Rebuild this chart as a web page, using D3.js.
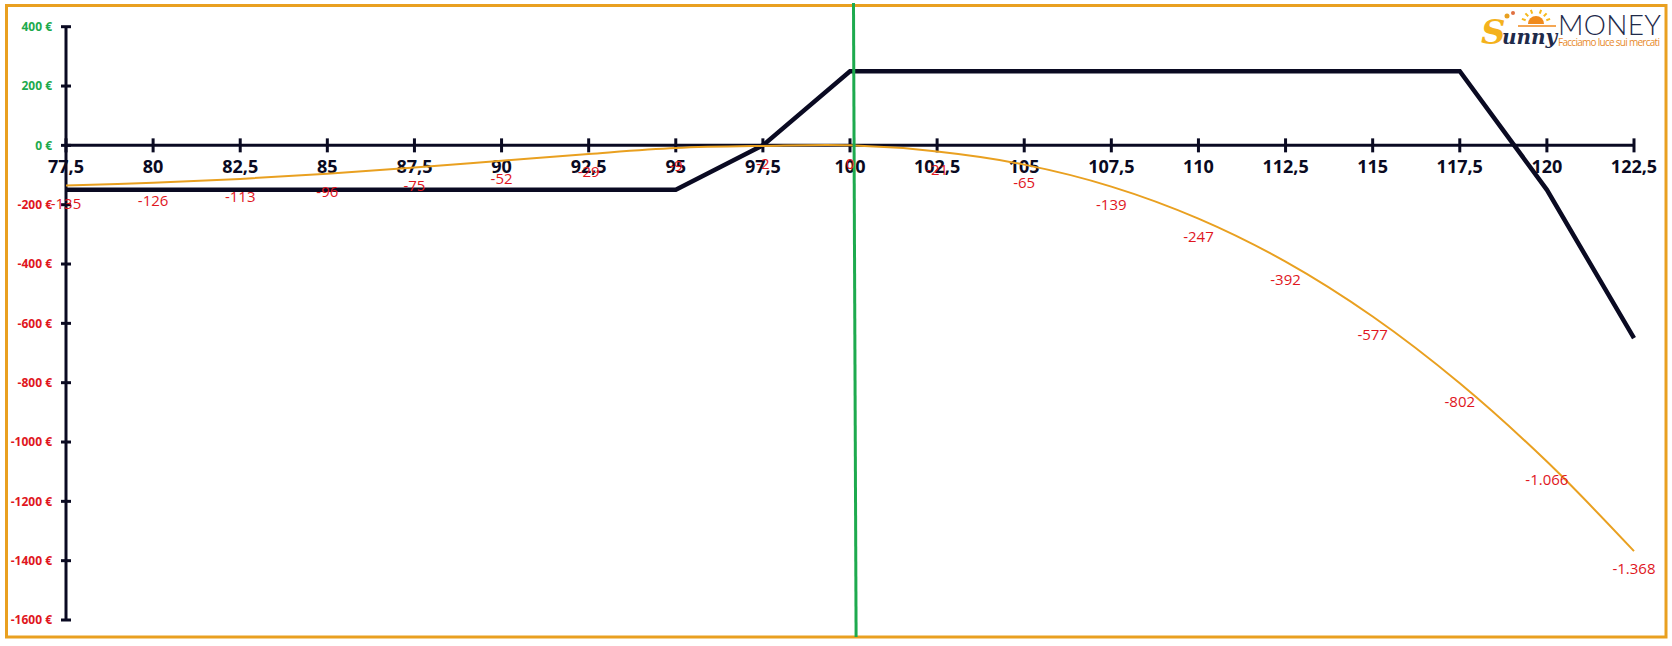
<!DOCTYPE html>
<html>
<head>
<meta charset="utf-8">
<script src="https://cdn.jsdelivr.net/npm/d3@7"></script>
<style>
  html, body { margin: 0; padding: 0; background: #fff; }
  svg { display: block; }
</style>
</head>
<body>
<svg id="chart" width="1672" height="646"></svg>
<script>
// ---------- DATA ----------
const strikes = [77.5, 80, 82.5, 85, 87.5, 90, 92.5, 95, 97.5, 100, 102.5, 105, 107.5, 110, 112.5, 115, 117.5, 120, 122.5];
const xTickLabels = ["77,5","80","82,5","85","87,5","90","92,5","95","97,5","100","102,5","105","107,5","110","112,5","115","117,5","120","122,5"];
const payoffExpiry = [-150, -150, -150, -150, -150, -150, -150, -150, 0, 250, 250, 250, 250, 250, 250, 250, 250, -150, -650];
const payoffToday = [-135, -126, -113, -96, -75, -52, -29, -9, -2, 0, -21, -65, -139, -247, -392, -577, -802, -1066, -1368];
const yTicks = [400, 200, 0, -200, -400, -600, -800, -1000, -1200, -1400, -1600];
const currentPrice = [100.1, 100.175];   // marker line, top / bottom
const currentPriceSpan = [480, -1657];

// ---------- SETUP ----------
const W = 1672, H = 646;
const svg = d3.select("#chart");
const loc = d3.formatLocale({decimal: ",", thousands: ".", grouping: [3], currency: ["", " €"], minus: "-"});
const fmtLabel = loc.format(",d");

const x = d3.scaleLinear().domain([77.5, 122.5]).range([66, 1634]);
const y = d3.scaleLinear().domain([400, -1600]).range([26.7, 620]);

const navy = "#0a0a22";
const orange = "#E9A020";
const green = "#1DAA4E";
const red = "#E0161E";

// border
svg.append("rect")
  .attr("x", 6.5).attr("y", 5.5).attr("width", 1659.5).attr("height", 631.5)
  .attr("fill", "#fff").attr("stroke", orange).attr("stroke-width", 3);

// ---------- AXES ----------
// y axis
const yAxis = svg.append("g").attr("class", "y-axis");
yAxis.append("line")
  .attr("x1", x(77.5)).attr("x2", x(77.5))
  .attr("y1", y(400)).attr("y2", y(-1600))
  .attr("stroke", navy).attr("stroke-width", 3);
yAxis.selectAll("line.tick").data(yTicks).join("line")
  .attr("class", "tick")
  .attr("x1", x(77.5) - 5).attr("x2", x(77.5) + 5)
  .attr("y1", d => y(d)).attr("y2", d => y(d))
  .attr("stroke", navy).attr("stroke-width", 3);
yAxis.selectAll("text").data(yTicks).join("text")
  .attr("x", 52).attr("y", d => y(d))
  .attr("dy", "0.35em")
  .attr("text-anchor", "end")
  .attr("font-family", "Open Sans")
  .attr("font-weight", "bold")
  .attr("font-size", 12)
  .attr("fill", d => d >= 0 ? green : red)
  .text(d => d + " €");

// x axis (at zero)
const xAxis = svg.append("g").attr("class", "x-axis");
xAxis.append("line")
  .attr("x1", x(77.5)).attr("x2", x(122.5))
  .attr("y1", y(0)).attr("y2", y(0))
  .attr("stroke", navy).attr("stroke-width", 3);
xAxis.selectAll("line.tick").data(strikes).join("line")
  .attr("class", "tick")
  .attr("x1", d => x(d)).attr("x2", d => x(d))
  .attr("y1", y(0) - 7).attr("y2", y(0) + 7)
  .attr("stroke", navy).attr("stroke-width", 3);
xAxis.selectAll("text").data(strikes).join("text")
  .attr("x", d => x(d)).attr("y", y(0) + 28)
  .attr("text-anchor", "middle")
  .attr("font-family", "Open Sans")
  .attr("font-weight", "bold")
  .attr("font-size", 18)
  .attr("fill", navy)
  .text((d, i) => xTickLabels[i]);

// ---------- LINES ----------
const expiryLine = d3.line().x((d, i) => x(strikes[i])).y(d => y(d));
svg.append("path")
  .datum(payoffExpiry)
  .attr("d", expiryLine)
  .attr("fill", "none")
  .attr("stroke", navy)
  .attr("stroke-width", 4.5)
  .attr("stroke-linejoin", "miter");

const todayLine = d3.line().x((d, i) => x(strikes[i])).y(d => y(d)).curve(d3.curveCatmullRom.alpha(0.5));
svg.append("path")
  .datum(payoffToday)
  .attr("d", todayLine)
  .attr("fill", "none")
  .attr("stroke", orange)
  .attr("stroke-width", 2);

// current price marker
svg.append("line")
  .attr("x1", x(currentPrice[0])).attr("x2", x(currentPrice[1]))
  .attr("y1", y(currentPriceSpan[0])).attr("y2", y(currentPriceSpan[1]))
  .attr("stroke", green).attr("stroke-width", 3);

// value labels
svg.append("g").selectAll("text").data(payoffToday).join("text")
  .attr("x", (d, i) => x(strikes[i]))
  .attr("y", d => y(d) + 18)
  .attr("dy", "0.35em")
  .attr("text-anchor", "middle")
  .attr("font-family", "Open Sans")
  .attr("font-size", 15)
  .attr("fill", red)
  .text(d => fmtLabel(d));

// ---------- LOGO ----------
const logo = svg.append("g").attr("class", "logo");
// sun
logo.append("path")
  .attr("d", d3.arc()({innerRadius: 0, outerRadius: 8, startAngle: -Math.PI / 2, endAngle: Math.PI / 2}))
  .attr("transform", "translate(1536,24)")
  .attr("fill", "#F08A1C");
[-70, -45, -20, 20, 45, 70].forEach(a => {
  const r = a * Math.PI / 180;
  logo.append("line")
    .attr("x1", 1536 + Math.sin(r) * 11).attr("y1", 24 - Math.cos(r) * 11)
    .attr("x2", 1536 + Math.sin(r) * 15).attr("y2", 24 - Math.cos(r) * 15)
    .attr("stroke", "#F6B81C").attr("stroke-width", 2);
});
logo.append("line").attr("x1", 1518).attr("x2", 1556).attr("y1", 26).attr("y2", 26)
  .attr("stroke", "#F08A1C").attr("stroke-width", 1.5);
logo.append("circle").attr("cx", 1507).attr("cy", 16).attr("r", 2.5).attr("fill", "#E8A020");
logo.append("circle").attr("cx", 1513).attr("cy", 13).attr("r", 2).attr("fill", "#E07040");
logo.append("text")
  .attr("x", 1481).attr("y", 44)
  .attr("font-family", "DejaVu Serif")
  .attr("font-style", "italic")
  .attr("font-weight", "bold")
  .attr("font-size", 34)
  .attr("fill", "#F4B21C")
  .text("S");
logo.append("text")
  .attr("x", 1502).attr("y", 44)
  .attr("font-family", "DejaVu Serif")
  .attr("font-style", "italic")
  .attr("font-weight", "bold")
  .attr("font-size", 20)
  .attr("fill", "#1E2A4A")
  .attr("textLength", 55)
  .text("unny");
logo.append("text")
  .attr("x", 1558).attr("y", 35)
  .attr("font-family", "Lato")
  .attr("font-weight", 300)
  .attr("font-size", 28)
  .attr("fill", "#1E2A4A")
  .attr("textLength", 103)
  .text("MONEY");
logo.append("text")
  .attr("x", 1558).attr("y", 46)
  .attr("font-family", "Open Sans")
  .attr("font-size", 10)
  .attr("fill", "#E88A2A")
  .attr("textLength", 102)
  .text("Facciamo luce sui mercati");
</script>
</body>
</html>
